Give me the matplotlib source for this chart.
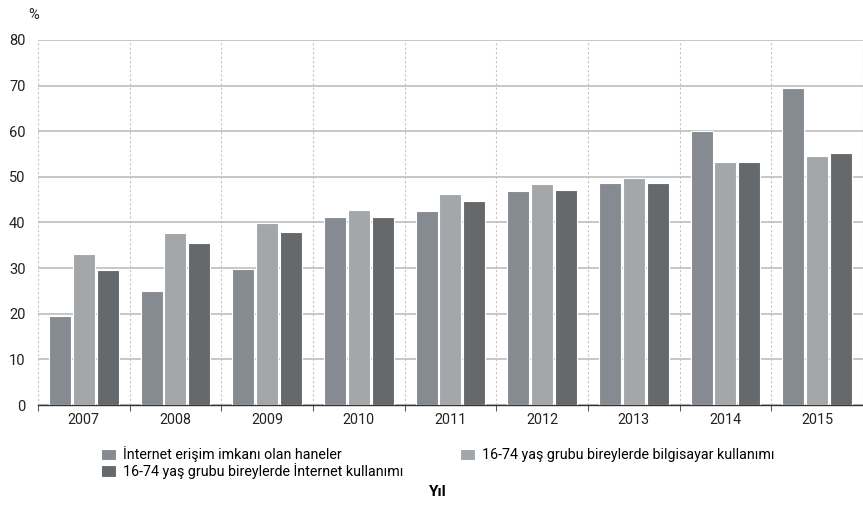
import matplotlib
matplotlib.use("Agg")
import matplotlib.pyplot as plt
import numpy as np

plt.rcParams['font.family'] = ['Roboto', 'DejaVu Sans']

# yıllar ve seriler
years = ['2007', '2008', '2009', '2010', '2011', '2012', '2013', '2014', '2015']
hane_internet = [19.4, 25.0, 29.7, 41.3, 42.6, 47.0, 48.7, 60.1, 69.5]
bilgisayar = [33.0, 37.6, 39.8, 42.8, 46.2, 48.5, 49.8, 53.3, 54.5]
birey_internet = [29.5, 35.5, 37.9, 41.2, 44.7, 47.2, 48.7, 53.3, 55.2]

labels = ['İnternet erişim imkanı olan haneler',
          '16-74 yaş grubu bireylerde bilgisayar kullanımı',
          '16-74 yaş grubu bireylerde İnternet kullanımı']
colors = ['#868a91', '#a3a7aa', '#65696c']

fig = plt.figure(figsize=(8.63, 5.05), dpi=100)
ax = fig.add_axes([0.044, 0.198, 0.956, 0.723])

x = np.arange(len(years))
w = 0.24
bars = []
for i, vals in enumerate([hane_internet, bilgisayar, birey_internet]):
    b = ax.bar(x + (i - 1) * 0.26, vals, w, color=colors[i], edgecolor='white',
               linewidth=0.8, label=labels[i], zorder=3)
    bars.append(b)

ax.set_xlim(-0.5, len(years) - 0.5)
ax.set_ylim(0, 80)
ax.set_yticks(range(0, 81, 10))
ax.yaxis.grid(True, color='#bdbdbd', linewidth=1.2, zorder=0)

# grup sınırları
for b in np.arange(-0.5, len(years), 1.0):
    ax.axvline(b, color='#c4c4c4', linestyle=(0, (2, 2)), linewidth=0.8, zorder=1)

ax.set_xticks(x)
ax.set_xticklabels(years)
ax.set_xticks(np.arange(-0.5, len(years), 1.0), minor=True)
ax.tick_params(axis='x', which='major', length=0, labelsize=10.3, colors='#222222', pad=6)
ax.tick_params(axis='x', which='minor', length=4, color='#333333', direction='out')
ax.tick_params(axis='y', length=0, labelsize=10.5, colors='#222222', pad=9)

for s in ['top', 'right', 'left']:
    ax.spines[s].set_visible(False)
ax.spines['bottom'].set_color('#333333')
ax.spines['bottom'].set_linewidth(1.0)

fig.text(0.033, 0.97, '%', fontsize=10.5, color='#222222', va='center')

leg = fig.legend([bars[0], bars[2], bars[1]], [labels[0], labels[2], labels[1]],
                 ncol=2, loc='upper left', bbox_to_anchor=(0.109, 0.13),
                 frameon=False, fontsize=10.3, handlelength=1.0, handleheight=0.9,
                 handletextpad=0.5, columnspacing=4.0, labelspacing=0.05,
                 borderpad=0)

fig.text(0.507, 0.025, 'Yıl', fontsize=11, fontweight='bold', ha='center', va='center')

fig.savefig('out.png', dpi=100)
